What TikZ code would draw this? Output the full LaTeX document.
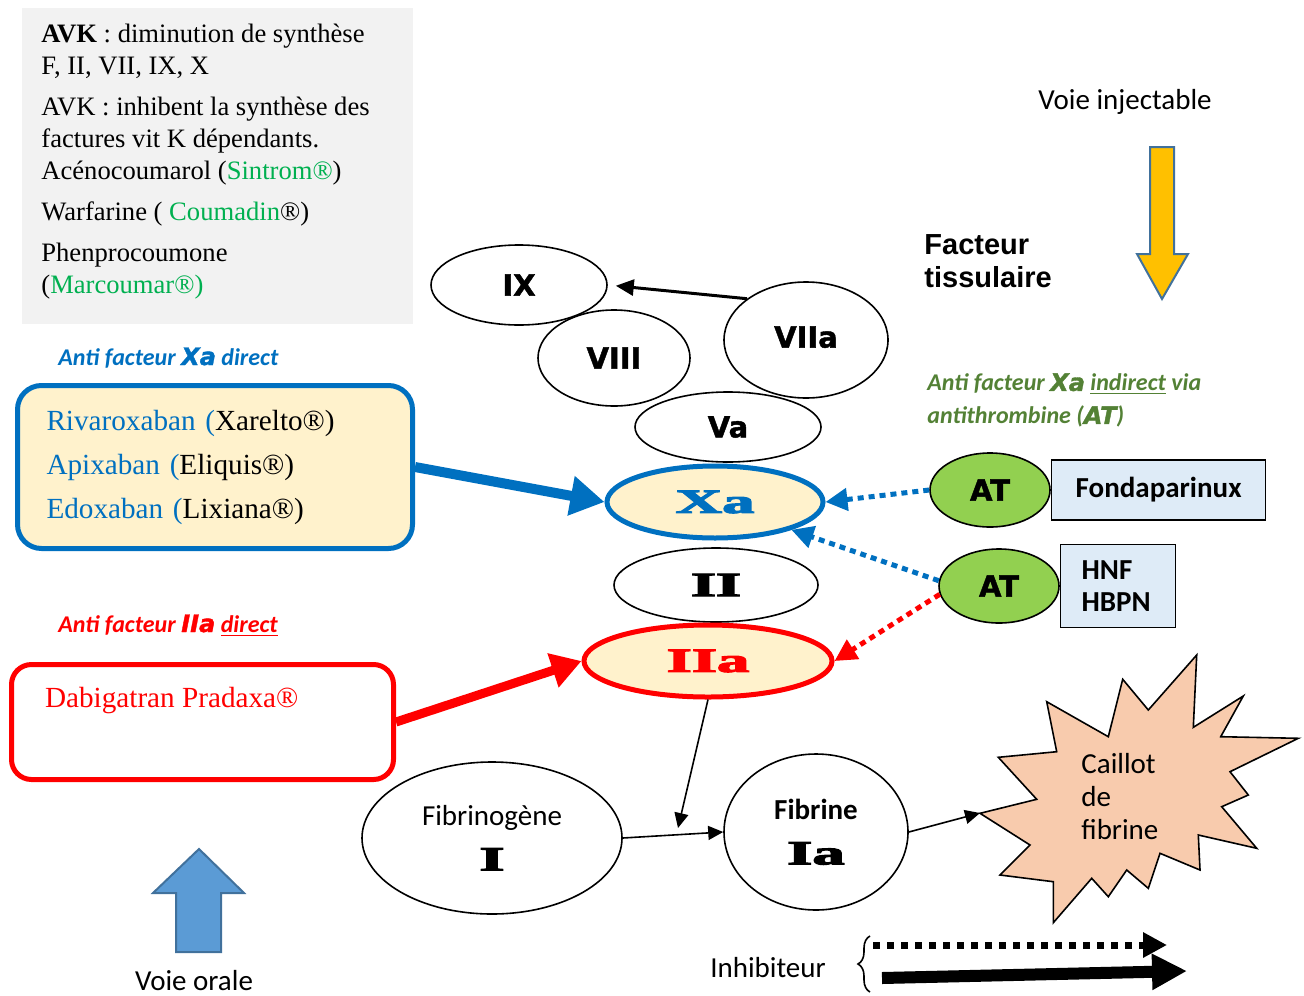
\documentclass[tikz,border=0pt]{standalone}
\usepackage{fontspec}
\usepackage{graphicx}
\setmainfont{Liberation Serif}
\setsansfont{Carlito}
\newfontfamily\arialfont{Liberation Sans}
\newfontfamily\heavyfont{DejaVu Sans}[BoldFeatures={FakeBold=1.5}, BoldItalicFeatures={FakeBold=1.5}]
\newfontfamily\fatfont{Liberation Serif}[BoldFeatures={FakeBold=3}]
\usetikzlibrary{shapes.geometric}
\usetikzlibrary{positioning}
\usetikzlibrary{calc}
\usetikzlibrary{arrows.meta}
\usetikzlibrary{decorations.pathreplacing}

\definecolor{avkgray}{HTML}{F2F2F2}
\definecolor{xablue}{HTML}{0070C0}
\definecolor{cream}{HTML}{FFF2CC}
\definecolor{brandgreen}{HTML}{00B050}
\definecolor{atgreen}{HTML}{92D050}
\definecolor{headgreen}{HTML}{538135}
\definecolor{paleblue}{HTML}{DEEBF7}
\definecolor{injyellow}{HTML}{FFC000}
\definecolor{oralblue}{HTML}{5B9BD5}
\definecolor{arrowrim}{HTML}{41719C}
\definecolor{clotpink}{HTML}{F8CBAD}

\newcommand{\bigsize}{\fontsize{14.5}{17.4}\selectfont}
\newcommand{\widetxt}[1]{\scalebox{1.9}[1]{\fatfont\bfseries\fontsize{17}{19}\selectfont #1}}
\newcommand{\heavyit}[1]{{\heavyfont\bfseries\itshape #1}}

\begin{document}
\begin{tikzpicture}[x=0.5pt, y=-0.5pt, >={Triangle[length=7.5pt,width=7pt]}, font=\sffamily\bigsize]
    \tikzstyle{factor}=[draw=black, fill=white, ellipse, line width=0.8pt, inner sep=0pt, font=\heavyfont\bfseries\bigsize]
    \tikzstyle{active}=[ellipse, fill=cream, line width=2.5pt, inner sep=0pt]
    \tikzstyle{atnode}=[draw=black, ellipse, fill=atgreen, line width=0.8pt, inner sep=0pt, minimum width=60pt, minimum height=37pt, font=\heavyfont\bfseries\bigsize]
    \tikzstyle{drugbox}=[draw=black, rectangle, fill=paleblue, line width=0.8pt, inner sep=0pt, font=\sffamily\bfseries\fontsize{14.5}{16}\selectfont]
    \tikzstyle{heading}=[inner sep=0pt, font=\sffamily\bfseries\itshape\fontsize{12}{16.5}\selectfont]
    \tikzstyle{inhib}=[line width=2.5pt, dash pattern=on 3pt off 2.5pt, -{Triangle[length=11pt,width=11pt]}]
    \tikzstyle{drugline}=[-{Triangle[length=17pt,width=19pt]}]

    \useasboundingbox (0,0) rectangle (1304,995);

    \node[fill=avkgray, minimum width=195.5pt, minimum height=158pt, anchor=north west, inner sep=0pt] (avkbg) at (22,8) {};
    \node[anchor=north west, align=left, inner sep=0pt, font=\rmfamily\fontsize{13.3}{16}\selectfont] (avk) at (41,24) {\textbf{AVK} : diminution de synthèse\\F, II, VII, IX, X\\[4.5pt]AVK : inhibent la synthèse des\\factures vit K dépendants.\\Acénocoumarol (\textcolor{brandgreen}{Sintrom®})\\[4.5pt]Warfarine ( \textcolor{brandgreen}{Coumadin}®)\\[4.5pt]Phenprocoumone\\(\textcolor{brandgreen}{Marcoumar®)}};

    %%%%
    \node[heading, text=xablue, anchor=base west] (xahead) at (58,365) {Anti facteur \heavyit{Xa} direct};
    \node[draw=xablue, line width=2.5pt, fill=cream, rounded corners=12pt, minimum height=81.5pt, text width=168.5pt, inner xsep=14.5pt, align=left, font=\rmfamily\fontsize{14.6}{22}\selectfont] (rivabox) at (215,467) {\textcolor{xablue}{Rivaroxaban (}Xarelto®)\\\textcolor{xablue}{Apixaban (}Eliquis®)\\\textcolor{xablue}{Edoxaban (}Lixiana®)};

    \node[heading, text=red, anchor=base west] (iiahead) at (58,632) {Anti facteur \heavyit{IIa} \underline{direct}};
    \node[draw=red, line width=2.5pt, rounded corners=10pt, minimum width=191pt, minimum height=57.5pt] (dabibox) at (202.5,722) {};
    \node[anchor=base west, text=red, font=\rmfamily\fontsize{14.6}{17}\selectfont] (dabi) at (38,707) {Dabigatran Pradaxa®};

    %%%%
    \node[factor, minimum width=88pt, minimum height=40pt] (IX) at (519,285) {IX};
    \node[factor, minimum width=76pt, minimum height=48pt] (VIII) at (614,358) {VIII};
    \node[factor, minimum width=82pt, minimum height=58pt] (VIIa) at (806,340) {\raisebox{3pt}{VIIa}};
    \node[factor, minimum width=93pt, minimum height=35pt] (Va) at (728,427) {\raisebox{-3pt}{Va}};
    \node[active, draw=xablue, text=xablue, minimum width=108pt, minimum height=36pt] (Xa) at (715,502) {\raisebox{-2pt}{\widetxt{Xa}}};
    \node[factor, minimum width=102pt, minimum height=37pt] (II) at (716,585) {\widetxt{II}};
    \node[active, draw=red, text=red, minimum width=124pt, minimum height=36pt] (IIa) at (708,661) {\raisebox{-2pt}{\widetxt{IIa}}};
    \node[factor, font=\sffamily\bigsize, minimum width=130pt, minimum height=76pt, align=center] (fbg) at (492,838) {Fibrinogène\\[5pt]\widetxt{I}};
    \node[factor, font=\sffamily\bfseries\bigsize, minimum width=92pt, minimum height=78pt, align=center] (fib) at (816,832) {Fibrine\\[5pt]\widetxt{Ia}};

    \draw[line width=1.5pt, -{Triangle[length=9pt,width=8pt]}, shorten >=4pt] (VIIa.145) -- (IX.east);

    %%%%
    \node[heading, text=headgreen, anchor=north west, align=left] (athead) at (927,373) {Anti facteur \heavyit{Xa} \underline{indirect} via\\antithrombine (\heavyit{AT})};
    \node[atnode] (AT1) at (990,490) {AT};
    \node[atnode] (AT2) at (999,586) {AT};
    \node[drugbox, right=0pt of AT1, minimum width=107pt, minimum height=30pt] (fonda) {Fondaparinux};
    \node[drugbox, right=0pt of AT2, minimum width=57.5pt, minimum height=41.5pt, text width=36.5pt, align=left] (hep) {HNF\\HBPN};

    \draw[inhib, xablue] (AT1.west) -- (Xa.east);
    \draw[inhib, xablue] (AT2.175) -- (Xa.340);
    \draw[inhib, red] (AT2.188) -- (IIa.east);

    \draw[xablue, line width=5pt, drugline] (rivabox.east) -- (Xa.west);
    \draw[red, line width=4.5pt, -{Triangle[length=15pt,width=17pt]}] (dabibox.east) -- (IIa.west);

    %%%%
    \draw[fill=clotpink, line width=0.8pt] (980,813.3) -- (1036.7,799.3) -- (998.3,757.3) -- (1056.7,751.7) -- (1046.7,701.7) -- (1108.3,736.7) -- (1122.7,679.3) -- (1148.3,710) -- (1196.7,655) -- (1193.3,727.3) -- (1243.3,696) -- (1220.7,736.7) -- (1298.3,738.3) -- (1230,771.7) -- (1248.3,795) -- (1221.7,806.7) -- (1256.7,848.3) -- (1198.3,835) -- (1200,870) -- (1160,853.3) -- (1148.3,888.3) -- (1126.7,870) -- (1108.3,896.7) -- (1091.7,878.3) -- (1053.3,922.7) -- (1053.3,881.7) -- (1000,875) -- (1030,845) -- cycle;
    \node[anchor=north west, align=left, inner sep=0pt, font=\sffamily\fontsize{14.5}{16.5}\selectfont] (clottxt) at (1081,753) {Caillot\\de\\fibrine};
    \coordinate (clot) at (980,813);
    \coordinate (meet) at (678,828);

    \draw[line width=0.8pt, ->] (IIa.south) -- (meet);
    \draw[line width=0.8pt, ->] (fbg.east) -- (fib.west);
    \draw[line width=0.8pt, ->] (fib.east) -- (clot);

    %%%%
    \node[anchor=base] (inj) at (1125,110) {Voie injectable};
    \draw[fill=injyellow, draw=arrowrim, line width=1pt] (1150,147) -- (1174,147) -- (1174,254) -- (1188,254) -- (1162,299) -- (1137,254) -- (1150,254) -- cycle;
    \node[anchor=north west, align=left, inner sep=0pt, font=\arialfont\bfseries\fontsize{14.5}{16.5}\selectfont] (tf) at (924,234) {Facteur\\tissulaire};

    \draw[fill=oralblue, draw=arrowrim, line width=1pt] (199,849) -- (244,893) -- (221,893) -- (221,952) -- (176,952) -- (176,893) -- (153,893) -- cycle;
    \node[anchor=base, inner sep=1pt] (oral) at (194,990) {Voie orale};

    %%%%
    \node[anchor=base] (inhibtxt) at (768,977) {Inhibiteur};
    \draw[line width=0.8pt, decorate, decoration={brace, amplitude=6pt}] (870,992) -- (870,936);
    \coordinate (dotA) at (873,945);
    \coordinate (dotB) at (1167,945);
    \coordinate (solA) at (882,978);
    \coordinate (solB) at (1187,971);
    \draw[line width=3.5pt, dash pattern=on 3.5pt off 3.5pt, -{Triangle[length=12pt,width=12pt]}] (dotA) -- (dotB);
    \draw[line width=6pt, -{Triangle[length=17.5pt,width=17pt]}] (solA) -- (solB);

\end{tikzpicture}
\end{document}
